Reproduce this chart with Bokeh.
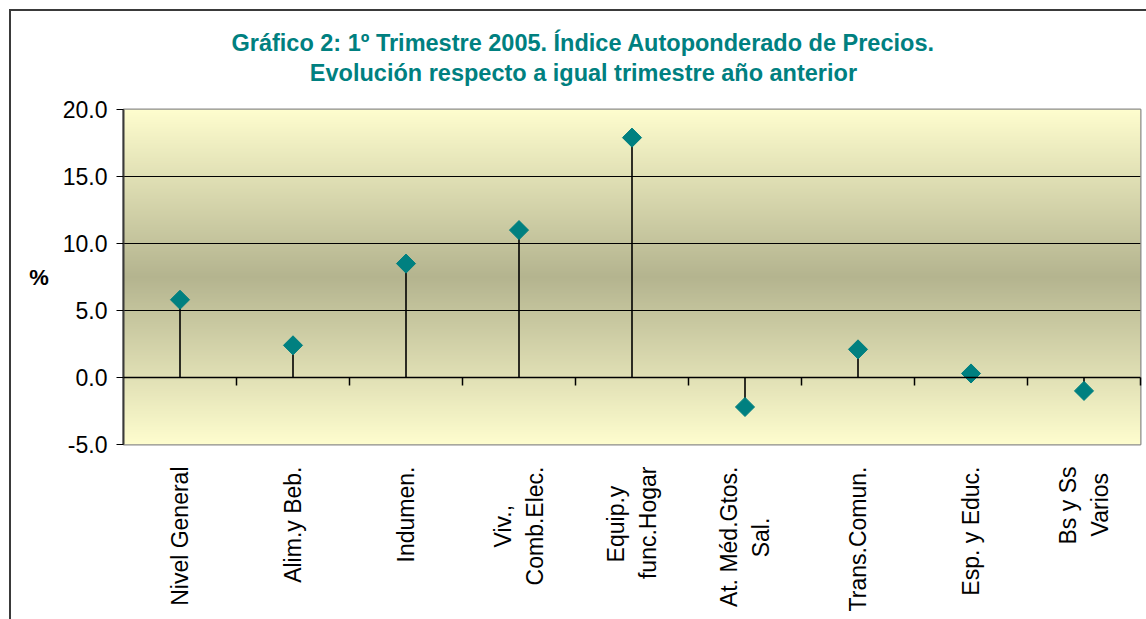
import numpy as np
from bokeh.plotting import figure
from bokeh.models import Title, FixedTicker, Range1d, ColumnDataSource, Span, LinearAxis
from bokeh.embed import file_html
from bokeh.resources import INLINE

# ---------------- data ----------------
categories = ["Nivel General", "Alim.y Beb.", "Indumen.", "Viv.,\nComb.Elec.",
              "Equip.y\nfunc.Hogar", "At. Méd.Gtos.\nSal.", "Trans.Comun.",
              "Esp. y Educ.", "Bs y Ss\nVarios"]
values = [5.8, 2.4, 8.5, 11.0, 17.9, -2.2, 2.1, 0.3, -1.0]
y_ticks = [-5.0, 0.0, 5.0, 10.0, 15.0, 20.0]
title_lines = ["Gráfico 2: 1º Trimestre 2005. Índice Autoponderado de Precios.",
               "Evolución respecto a igual trimestre año anterior"]
y_label = "%"

# ---------------- layout ----------------
W, H = 1146, 619
BL, BT, BR, BB = 123, 109, 6, 175
frame_h = H - BT - BB
ymin, ymax = y_ticks[0], y_ticks[-1]
xmin, xmax = 0, len(categories)
px_per_unit = frame_h / (ymax - ymin)

FONT = "Liberation Sans"
TEAL = "#008080"
EDGE = "#3a3a3a"

# approximate Arial/Liberation Sans advance widths (em) used to centre the
# lines of the rotated two-line category labels
CHAR_W = {" ": .278, ".": .278, ",": .278, "A": .667, "B": .667, "C": .722,
          "E": .667, "G": .778, "H": .722, "I": .278, "M": .833, "N": .722,
          "S": .667, "T": .611, "V": .667, "a": .556, "b": .556, "c": .5,
          "d": .556, "e": .556, "f": .278, "g": .556, "i": .222, "l": .222,
          "m": .833, "n": .556, "o": .556, "p": .556, "q": .556, "r": .333,
          "s": .5, "t": .278, "u": .556, "v": .5, "y": .5, "é": .556}


def text_w(s):
    return sum(CHAR_W.get(ch, .556) for ch in s)


def centre_lines(label):
    lines = label.split("\n")
    if len(lines) == 1:
        return label
    longest = max(text_w(s) for s in lines)
    out = []
    for s in lines:
        pad = int(round((longest - text_w(s)) / 2 / CHAR_W[" "]))
        out.append(s + "\u00a0" * pad)
    return "\n".join(out)


p = figure(width=W, height=H, output_backend="svg", toolbar_location=None,
           x_range=Range1d(xmin, xmax), y_range=Range1d(ymin, ymax),
           x_axis_location=None, min_border_left=BL, min_border_top=BT,
           min_border_right=BR, min_border_bottom=BB)
# outer chart border (left and top) drawn behind a transparent canvas border
p.border_fill_alpha = 0
p.styles = {"background": (f"linear-gradient({EDGE},{EDGE}) 9px 9px / 2px 100% no-repeat, "
                           f"linear-gradient({EDGE},{EDGE}) 9px 9px / 100% 2px no-repeat, white")}
p.background_fill_color = "#f6f4c8"
p.outline_line_color = "#8c8c8c"
p.outline_line_width = 2
p.xgrid.visible = False

# gradient background (light at edges, dark khaki in the centre)
n = 400
t = np.abs(np.linspace(-1, 1, n))
light = np.array([254, 253, 206])
dark = np.array([180, 180, 143])
cols = dark[None, :] + t[:, None] * (light - dark)[None, :]
img = np.zeros((n, 1, 4), dtype=np.uint8)
img[:, 0, :3] = np.round(cols).astype(np.uint8)
img[:, 0, 3] = 255
img32 = img.view(dtype=np.uint32).reshape((n, 1))
p.image_rgba(image=[img32], x=xmin, y=ymin, dw=xmax - xmin, dh=ymax - ymin,
             level="underlay")

# y axis
yax = p.yaxis[0]
yax.ticker = FixedTicker(ticks=y_ticks)
yax.major_label_overrides = {v: f"{v:.1f}" for v in y_ticks}
yax.major_label_text_font = FONT
yax.major_label_text_font_size = "23px"
yax.major_label_text_color = "black"
yax.major_label_standoff = 9
yax.axis_line_color = EDGE
yax.axis_line_width = 2
yax.major_tick_line_color = "black"
yax.major_tick_out = 7
yax.major_tick_in = 0
yax.minor_tick_line_color = None
yax.axis_label = y_label
yax.axis_label_orientation = "horizontal"
yax.axis_label_standoff = 11
yax.axis_label_text_font = FONT
yax.axis_label_text_font_size = "22px"
yax.axis_label_text_font_style = "bold"
yax.axis_label_text_color = "black"

p.ygrid.ticker = FixedTicker(ticks=[v for v in y_ticks if ymin < v < ymax])
p.ygrid.grid_line_color = "black"
p.ygrid.grid_line_width = 1
p.ygrid.level = "glyph"

# category axis below the plot
xs = [i + 0.5 for i in range(len(categories))]
xax = LinearAxis(ticker=FixedTicker(ticks=xs),
                 major_label_overrides={x: centre_lines(c) for x, c in zip(xs, categories)},
                 major_label_orientation=np.pi / 2, axis_line_color=None,
                 major_tick_line_color=None, minor_tick_line_color=None,
                 major_label_standoff=16, major_label_text_font=FONT,
                 major_label_text_font_size="23px", major_label_text_color="black",
                 major_label_text_line_height=1.25)
p.add_layout(xax, "below")

# zero line and category separators
p.add_layout(Span(location=0, dimension="width", line_color="black", line_width=1.5,
                  level="overlay"))
bounds = list(range(1, len(categories) + 1))
tick_len = 8 / px_per_unit
p.segment(x0=bounds, y0=[0] * len(bounds), x1=bounds, y1=[-tick_len] * len(bounds),
          line_color="black", line_width=1.5, level="overlay")

# stems and markers
src = ColumnDataSource(dict(x=xs, v=values, z=[0] * len(values)))
p.segment(x0="x", y0="z", x1="x", y1="v", source=src, line_color="black",
          line_width=1.6, level="overlay")
p.scatter(x="x", y="v", source=src, marker="square", angle=np.pi / 4, size=13.5,
          fill_color=TEAL, line_color=TEAL, level="overlay")

# two-line title, second line indented so that it sits centred under the first
TITLE_PAD = 12
title_text = title_lines[0] + "\n" + "\u00a0" * TITLE_PAD + title_lines[1]
p.add_layout(Title(text=title_text, align="left", offset=108, standoff=46,
                   text_font=FONT, text_font_size="23.5px", text_font_style="bold",
                   text_color=TEAL, text_line_height=1.19), "above")

open("out.html", "w").write(file_html(p, INLINE))
